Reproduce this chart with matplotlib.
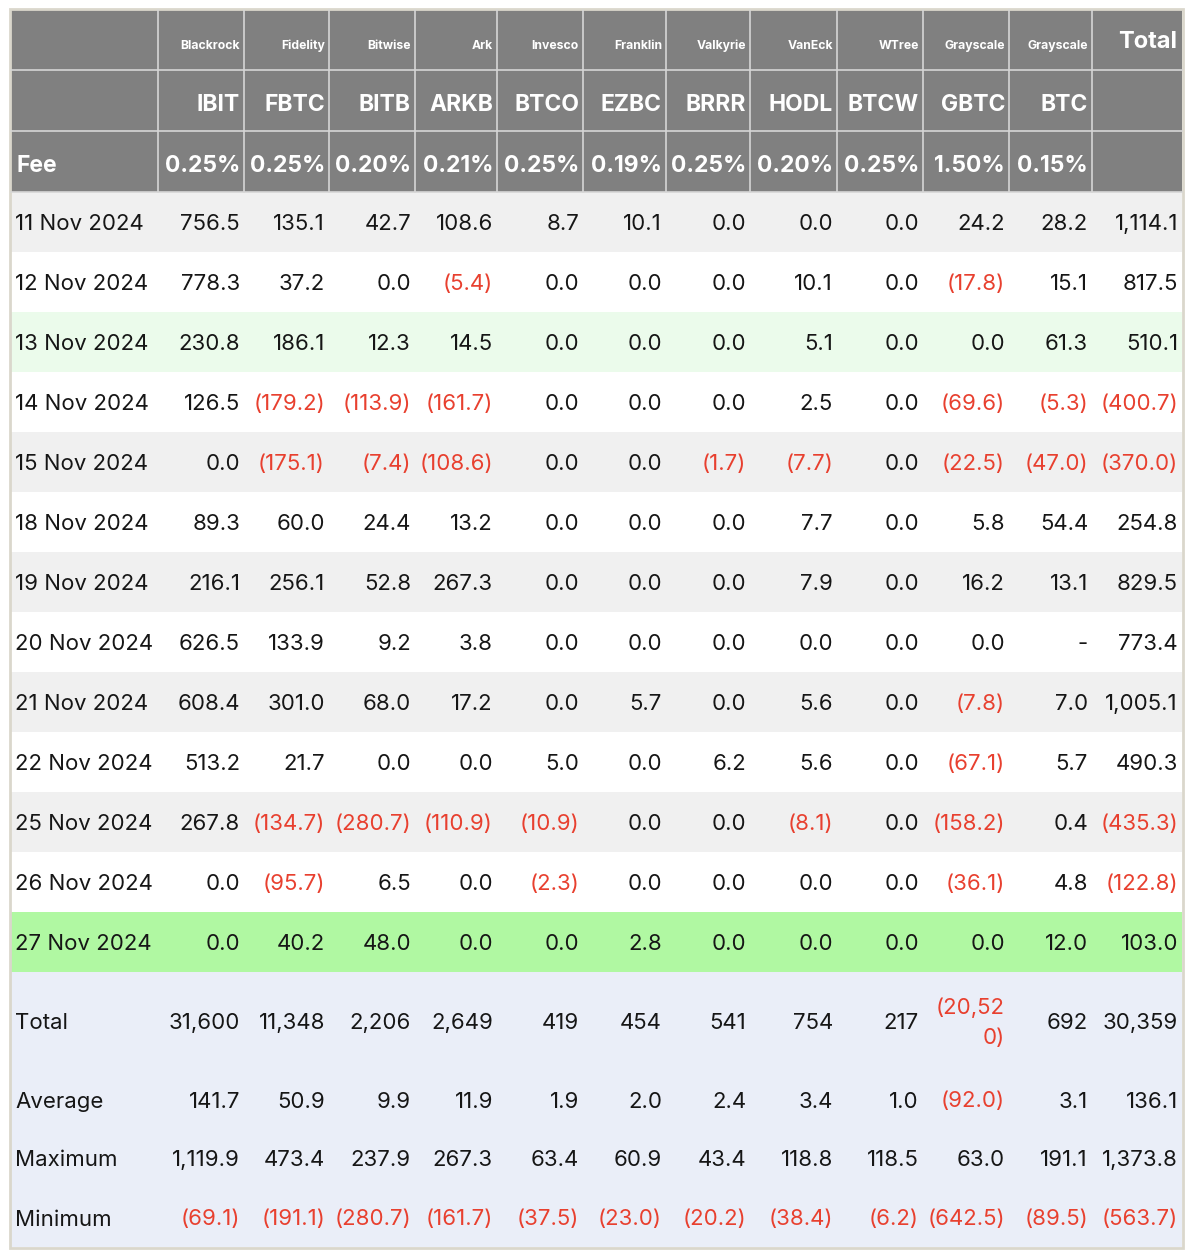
import matplotlib.pyplot as plt
from matplotlib.patches import Rectangle

# Данные таблицы
issuers = ["Blackrock", "Fidelity", "Bitwise", "Ark", "Invesco", "Franklin",
           "Valkyrie", "VanEck", "WTree", "Grayscale", "Grayscale"]
tickers = ["IBIT", "FBTC", "BITB", "ARKB", "BTCO", "EZBC",
           "BRRR", "HODL", "BTCW", "GBTC", "BTC"]
fees = ["0.25%", "0.25%", "0.20%", "0.21%", "0.25%", "0.19%",
        "0.25%", "0.20%", "0.25%", "1.50%", "0.15%"]

dates = ["11 Nov 2024", "12 Nov 2024", "13 Nov 2024", "14 Nov 2024", "15 Nov 2024",
         "18 Nov 2024", "19 Nov 2024", "20 Nov 2024", "21 Nov 2024", "22 Nov 2024",
         "25 Nov 2024", "26 Nov 2024", "27 Nov 2024"]

# None = "-" (нет данных); последний столбец - Total
flows = [
    [756.5, 135.1, 42.7, 108.6, 8.7, 10.1, 0.0, 0.0, 0.0, 24.2, 28.2, 1114.1],
    [778.3, 37.2, 0.0, -5.4, 0.0, 0.0, 0.0, 10.1, 0.0, -17.8, 15.1, 817.5],
    [230.8, 186.1, 12.3, 14.5, 0.0, 0.0, 0.0, 5.1, 0.0, 0.0, 61.3, 510.1],
    [126.5, -179.2, -113.9, -161.7, 0.0, 0.0, 0.0, 2.5, 0.0, -69.6, -5.3, -400.7],
    [0.0, -175.1, -7.4, -108.6, 0.0, 0.0, -1.7, -7.7, 0.0, -22.5, -47.0, -370.0],
    [89.3, 60.0, 24.4, 13.2, 0.0, 0.0, 0.0, 7.7, 0.0, 5.8, 54.4, 254.8],
    [216.1, 256.1, 52.8, 267.3, 0.0, 0.0, 0.0, 7.9, 0.0, 16.2, 13.1, 829.5],
    [626.5, 133.9, 9.2, 3.8, 0.0, 0.0, 0.0, 0.0, 0.0, 0.0, None, 773.4],
    [608.4, 301.0, 68.0, 17.2, 0.0, 5.7, 0.0, 5.6, 0.0, -7.8, 7.0, 1005.1],
    [513.2, 21.7, 0.0, 0.0, 5.0, 0.0, 6.2, 5.6, 0.0, -67.1, 5.7, 490.3],
    [267.8, -134.7, -280.7, -110.9, -10.9, 0.0, 0.0, -8.1, 0.0, -158.2, 0.4, -435.3],
    [0.0, -95.7, 6.5, 0.0, -2.3, 0.0, 0.0, 0.0, 0.0, -36.1, 4.8, -122.8],
    [0.0, 40.2, 48.0, 0.0, 0.0, 2.8, 0.0, 0.0, 0.0, 0.0, 12.0, 103.0],
]

totals = [31600, 11348, 2206, 2649, 419, 454, 541, 754, 217, -20520, 692, 30359]
averages = [141.7, 50.9, 9.9, 11.9, 1.9, 2.0, 2.4, 3.4, 1.0, -92.0, 3.1, 136.1]
maximums = [1119.9, 473.4, 237.9, 267.3, 63.4, 60.9, 43.4, 118.8, 118.5, 63.0, 191.1, 1373.8]
minimums = [-69.1, -191.1, -280.7, -161.7, -37.5, -23.0, -20.2, -38.4, -6.2, -642.5, -89.5, -563.7]

# Разметка (пиксели)
col_edges = [11, 158, 244, 329, 415, 497, 583, 666, 750, 837, 923, 1009, 1092, 1182]
head_edges = [10, 70, 131, 192]
row_h = 60
total_h = 98
summary_h = 59

HEAD_BG = "#808080"
HEAD_LINE = "#d6d6d6"
GREY = "#f0f0f0"
LIGHT_GREEN = "#ebfbeb"
GREEN = "#b0f8a2"
SUMMARY_BG = "#eaeef8"
RED = "#e8402f"
BLACK = "#161616"
FONT = "Inter"
FS = 16
HFS = 16.5
DY = 2  # базовая линия чуть ниже центра


def fmt(v, decimals=1):
    if v is None:
        return "-"
    s = f"{abs(v):,.{decimals}f}"
    return f"({s})" if v < 0 else s


def wrap(s):
    # узкая колонка не вмещает длинное значение
    if len(s) > 7:
        return s[:6] + "\n" + s[6:]
    return s


fig = plt.figure(figsize=(11.94, 12.58), dpi=100)
ax = fig.add_axes([0, 0, 1, 1])
ax.set_xlim(0, 1194)
ax.set_ylim(1258, 0)
ax.axis("off")

left, right = col_edges[0], col_edges[-1]

# Шапка
ax.add_patch(Rectangle((left, head_edges[0]), right - left, head_edges[-1] - head_edges[0],
                       facecolor=HEAD_BG, edgecolor="none"))
for x in col_edges[1:-1]:
    ax.plot([x, x], [head_edges[0], head_edges[-1]], color=HEAD_LINE, lw=1.2)
for y in head_edges[1:]:
    ax.plot([left, right], [y, y], color=HEAD_LINE, lw=1.2)

for i in range(len(tickers)):
    xr = col_edges[i + 2] - 4
    ax.text(xr, 46, issuers[i], ha="right", va="center", color="white",
            fontsize=8.8, fontweight="bold", family=FONT)
    ax.text(xr, 103 + DY, tickers[i], ha="right", va="center", color="white",
            fontsize=HFS, fontweight="bold", family=FONT)
    ax.text(xr, 164 + DY, fees[i], ha="right", va="center", color="white",
            fontsize=HFS, fontweight="bold", family=FONT)
ax.text(col_edges[-1] - 5, 42, "Total", ha="right", va="center", color="white",
        fontsize=17, fontweight="bold", family=FONT)
ax.text(left + 5, 164 + DY, "Fee", ha="left", va="center", color="white",
        fontsize=HFS, fontweight="bold", family=FONT)

# Дневные потоки
y = head_edges[-1]
for r, (d, vals) in enumerate(zip(dates, flows)):
    if r == len(dates) - 1:
        bg = GREEN
    elif d.startswith("13"):
        bg = LIGHT_GREEN
    elif r % 2 == 0:
        bg = GREY
    else:
        bg = "white"
    ax.add_patch(Rectangle((left, y), right - left, row_h, facecolor=bg, edgecolor="none"))
    yc = y + row_h / 2 + DY
    ax.text(left + 4, yc, d, ha="left", va="center", color=BLACK, fontsize=FS, family=FONT)
    for c, v in enumerate(vals):
        color = RED if (v is not None and v < 0) else BLACK
        ax.text(col_edges[c + 2] - 4, yc, fmt(v), ha="right", va="center",
                color=color, fontsize=FS, family=FONT)
    y += row_h

# Итоги
summary = [("Total", totals, 0, total_h), ("Average", averages, 1, summary_h),
           ("Maximum", maximums, 1, summary_h), ("Minimum", minimums, 1, summary_h)]
y0 = y
ax.add_patch(Rectangle((left, y0), right - left, total_h + 3 * summary_h,
                       facecolor=SUMMARY_BG, edgecolor="none"))
for label, vals, dec, h in summary:
    yc = y + h / 2 + DY
    ax.text(left + 4, yc, label, ha="left", va="center", color=BLACK, fontsize=FS, family=FONT)
    for c, v in enumerate(vals):
        color = RED if v < 0 else BLACK
        ax.text(col_edges[c + 2] - 4, yc, wrap(fmt(v, dec)), ha="right", va="center",
                color=color, fontsize=FS, family=FONT, linespacing=1.6)
    y += h

# Рамка
ax.add_patch(Rectangle((left - 1, head_edges[0] - 1), right - left + 2, y - head_edges[0] + 2,
                       facecolor="none", edgecolor="#dad7cc", lw=2))

fig.savefig("out.png", dpi=100)
